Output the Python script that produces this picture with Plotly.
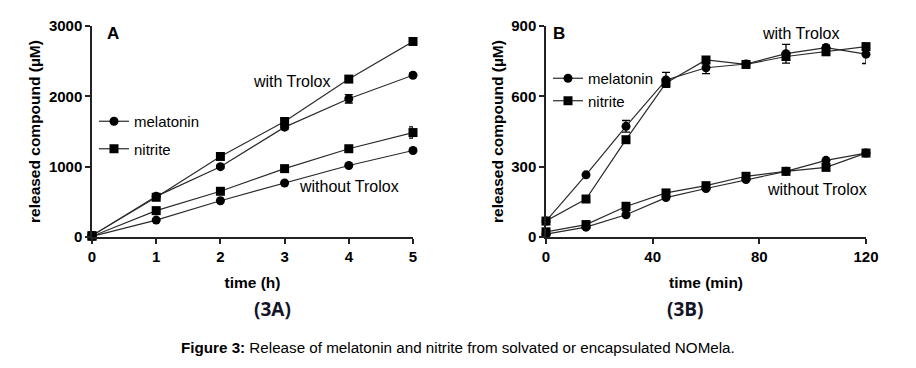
import plotly.graph_objects as go

# ---------------- data ----------------
hours = [0, 1, 2, 3, 4, 5]
a_mel_with = [20, 578, 1000, 1562, 1965, 2300]
a_mel_with_err = [0, 20, 20, 30, 60, 30]
a_nit_with = [20, 565, 1145, 1642, 2245, 2780]
a_nit_with_err = [0, 0, 0, 30, 0, 50]
a_mel_without = [10, 240, 516, 767, 1017, 1230]
a_mel_without_err = [0, 0, 0, 0, 0, 0]
a_nit_without = [10, 375, 650, 972, 1255, 1485]
a_nit_without_err = [0, 0, 0, 0, 0, 80]

minutes = [0, 15, 30, 45, 60, 75, 90, 105, 120]
b_mel_with = [68, 265, 472, 670, 722, 738, 782, 808, 780]
b_mel_with_err = [0, 0, 25, 32, 25, 8, 40, 10, 40]
b_nit_with = [68, 162, 415, 657, 755, 736, 770, 790, 812]
b_nit_with_err = [0, 0, 0, 15, 10, 0, 15, 15, 15]
b_mel_without = [12, 42, 95, 168, 207, 245, 280, 327, 358]
b_mel_without_err = [0, 0, 0, 0, 0, 0, 0, 0, 0]
b_nit_without = [22, 53, 130, 188, 219, 259, 280, 297, 358]
b_nit_without_err = [0, 0, 18, 10, 0, 0, 0, 0, 0]

a_xticks = [0, 1, 2, 3, 4, 5]
a_yticks = [0, 1000, 2000, 3000]
b_xticks = [0, 40, 80, 120]
b_yticks = [0, 300, 600, 900]

W, H = 916, 368
LINE = "#2a2a2a"
FONT = "Arial, Liberation Sans, sans-serif"

fig = go.Figure()


def add(x, y, err, symbol, name, xa, ya, legend, show, group):
    fig.add_trace(go.Scatter(
        x=x, y=y, mode="lines+markers", name=name,
        xaxis=xa, yaxis=ya, legend=legend, showlegend=show, legendgroup=group,
        line=dict(color=LINE, width=1.2),
        marker=dict(symbol=symbol, size=9, color="black"),
        error_y=dict(type="data", array=err, visible=True, color="black",
                     thickness=1.3, width=4),
        cliponaxis=False,
    ))


add(hours, a_mel_with, a_mel_with_err, "circle", "melatonin", "x", "y", "legend", True, "am")
add(hours, a_nit_with, a_nit_with_err, "square", "nitrite", "x", "y", "legend", True, "an")
add(hours, a_mel_without, a_mel_without_err, "circle", "melatonin", "x", "y", "legend", False, "am")
add(hours, a_nit_without, a_nit_without_err, "square", "nitrite", "x", "y", "legend", False, "an")

add(minutes, b_mel_with, b_mel_with_err, "circle", "melatonin", "x2", "y2", "legend2", True, "bm")
add(minutes, b_nit_with, b_nit_with_err, "square", "nitrite", "x2", "y2", "legend2", True, "bn")
add(minutes, b_mel_without, b_mel_without_err, "circle", "melatonin", "x2", "y2", "legend2", False, "bm")
add(minutes, b_nit_without, b_nit_without_err, "square", "nitrite", "x2", "y2", "legend2", False, "bn")

tickfont = dict(family=FONT, size=15, color="black", weight="bold")
titlefont = dict(family=FONT, size=15.5, color="black", weight="bold")

ydom = [1 - 237 / H, 1 - 26 / H]


def xaxis(dom, rng, ticks, title):
    return dict(domain=dom, range=rng, tickvals=ticks, showline=True, linecolor="#222",
                linewidth=1.5, ticks="outside", ticklen=5, tickwidth=1.5, tickcolor="#222",
                showgrid=False, zeroline=False, tickfont=tickfont, automargin=False,
                title=dict(text=title, font=titlefont, standoff=13))


def yaxis(anchor, rng, ticks, standoff):
    return dict(domain=ydom, range=rng, tickvals=ticks, anchor=anchor, showline=True,
                linecolor="#222", linewidth=1.5, ticks="outside", ticklen=5, tickwidth=1.5,
                tickcolor="#222", showgrid=False, zeroline=False, tickfont=tickfont,
                automargin=False,
                title=dict(text="released compound (µM)", font=titlefont, standoff=standoff))


legfont = dict(family=FONT, size=15, color="black")
fig.update_layout(
    width=W, height=H, margin=dict(l=0, r=0, t=0, b=0),
    paper_bgcolor="white", plot_bgcolor="white",
    xaxis=xaxis([92 / W, 413 / W], [0, 5], a_xticks, "time (h)"),
    yaxis=yaxis("x", [0, 3000], a_yticks, 4),
    xaxis2=xaxis([546 / W, 866 / W], [0, 120], b_xticks, "time (min)"),
    yaxis2=yaxis("x2", [0, 900], b_yticks, 4),
    legend=dict(x=94 / W, y=1 - 105 / H, xanchor="left", yanchor="top",
                font=legfont, bgcolor="rgba(0,0,0,0)",
                itemwidth=30, tracegroupgap=5),
    legend2=dict(x=548 / W, y=1 - 62 / H, xanchor="left", yanchor="top",
                 font=legfont, bgcolor="rgba(0,0,0,0)",
                 itemwidth=30, tracegroupgap=0),
    showlegend=True,
)

ann_font = dict(family=FONT, size=16, color="black")
fig.add_annotation(x=3.11, y=2206, xref="x", yref="y", text="with Trolox", showarrow=False, font=ann_font)
fig.add_annotation(x=4.0, y=714, xref="x", yref="y", text="without Trolox", showarrow=False, font=ann_font)
fig.add_annotation(x=95.6, y=870, xref="x2", yref="y2", text="with Trolox", showarrow=False, font=ann_font)
fig.add_annotation(x=101.6, y=201, xref="x2", yref="y2", text="without Trolox", showarrow=False, font=ann_font)

letter_font = dict(family=FONT, size=17, color="black", weight="bold")
fig.add_annotation(x=105 / W, y=1 - 33 / H, xref="paper", yref="paper", text="A", showarrow=False,
                   font=letter_font, yanchor="middle")
fig.add_annotation(x=559 / W, y=1 - 33 / H, xref="paper", yref="paper", text="B", showarrow=False,
                   font=letter_font, yanchor="middle")

panel_font = dict(family="Open Sans, Noto Sans, sans-serif", size=19, color="#141428", weight="bold")
fig.add_annotation(x=252 / W, y=1 - 309 / H, xref="paper", yref="paper", text="(3A)", showarrow=False,
                   font=panel_font, yanchor="middle")
fig.add_annotation(x=706 / W, y=1 - 309 / H, xref="paper", yref="paper", text="(3B)", showarrow=False,
                   font=panel_font, yanchor="middle")

fig.add_annotation(x=458 / W, y=1 - 347 / H, xref="paper", yref="paper", yanchor="middle",
                   text="<b>Figure 3:</b> Release of melatonin and nitrite from solvated or encapsulated NOMela.",
                   showarrow=False, font=dict(family=FONT, size=15.2, color="black"))

fig.write_html("out.html", config={"displayModeBar": False},
               post_script="document.body.style.margin='0';document.body.style.overflow='hidden';")
